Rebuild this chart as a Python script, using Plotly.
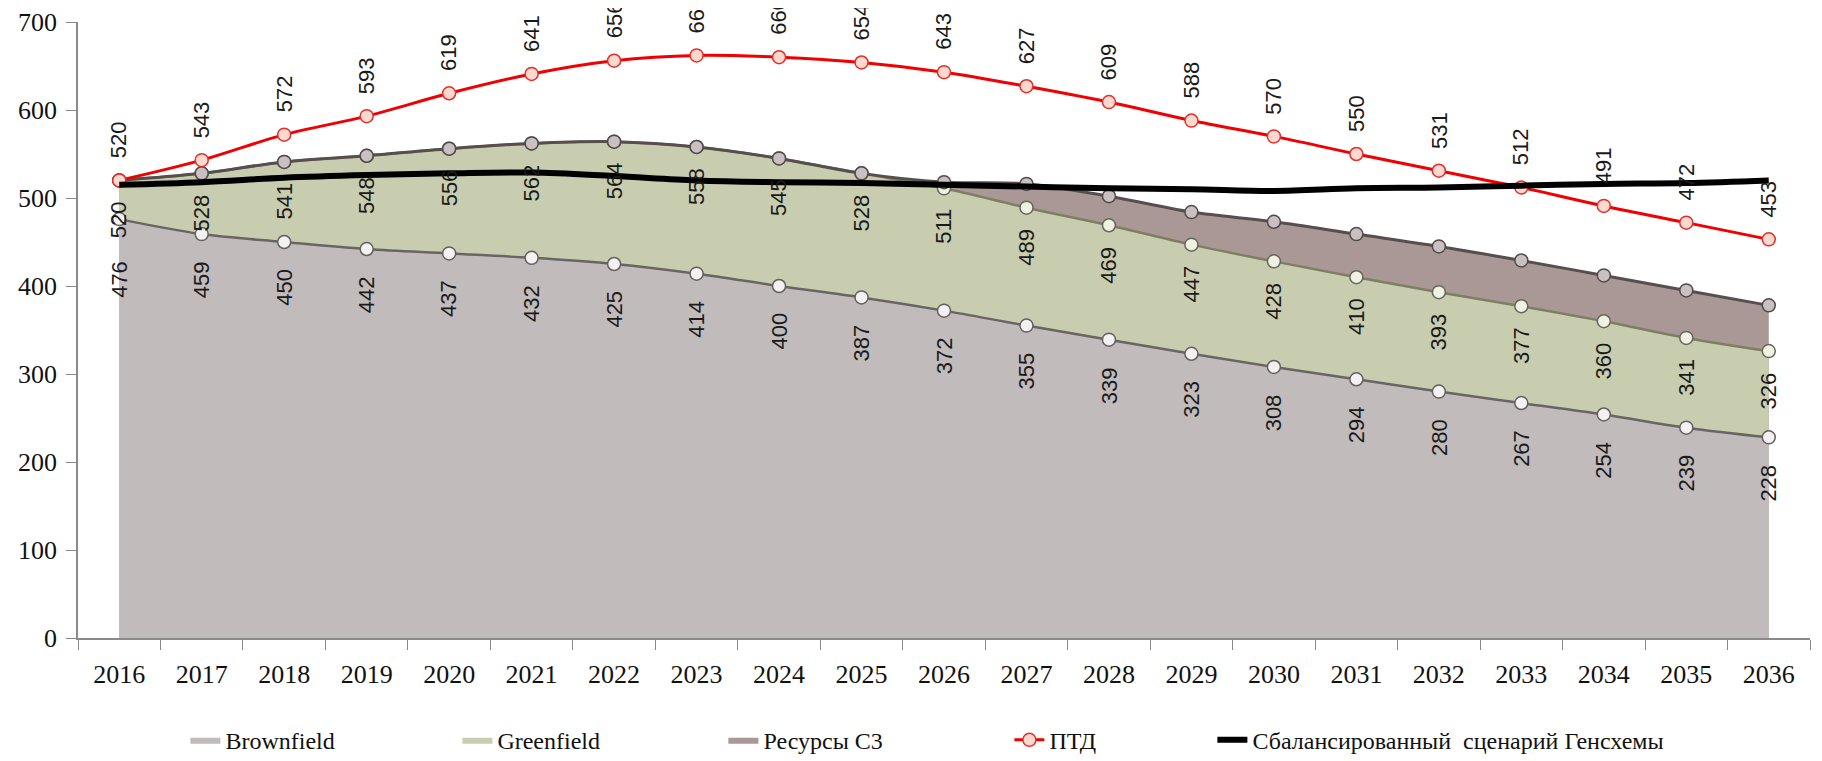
import plotly.graph_objects as go

years = list(range(2016, 2037))

brownfield = [476, 459, 450, 442, 437, 432, 425, 414, 400, 387, 372,
              355, 339, 323, 308, 294, 280, 267, 254, 239, 228]
# Brownfield + Greenfield (top of the green area)
greenfield = [520, 528, 541, 548, 556, 562, 564, 558, 545, 528, 511,
              489, 469, 447, 428, 410, 393, 377, 360, 341, 326]
# Brownfield + Greenfield + Ресурсы С3 (top of the brown area)
resources_c3 = [520, 528, 541, 548, 556, 562, 564, 558, 545, 528, 518,
                516, 502, 484, 473, 459, 445, 429, 412, 395, 378]
ptd = [520, 543, 572, 593, 619, 641, 656, 662, 660, 654, 643,
       627, 609, 588, 570, 550, 531, 512, 491, 472, 453]
balanced = [515, 518, 523, 526, 528, 529, 525, 520, 518, 517, 515,
            513, 511, 510, 508, 511, 512, 514, 516, 517, 520]

SERIF = "Liberation Serif"
LABEL_FONT = dict(family="Liberation Sans", size=22, color="#1a1a1a")

fig = go.Figure()

# filled areas, back to front (fill only, so the legend shows plain swatches)
areas = [
    ("Ресурсы С3", resources_c3, "#a99896", 3, 241),
    ("Greenfield", greenfield, "#c9cdb0", 2, 221),
    ("Brownfield", brownfield, "#c1bbbc", 1, 227),
]
for name, vals, color, rank, lw in areas:
    fig.add_trace(go.Scatter(
        x=years, y=vals, name=name, mode="lines", fill="tozeroy", fillcolor=color,
        line=dict(color=color, width=0, shape="spline"),
        legendrank=rank, legendwidth=lw, hoverinfo="skip",
    ))

# edge lines with markers on top of the areas
edges = [
    (brownfield, "#6a6565", 2.5, "#f3f1f1", "#655f5f"),
    (greenfield, "#7d7f62", 2.5, "#eff1e2", "#66665a"),
    (resources_c3, "#574f4e", 3, "#c8c0c1", "#524a4a"),
]
for vals, lcolor, lwidth, mfill, mline in edges:
    fig.add_trace(go.Scatter(
        x=years, y=vals, mode="lines+markers", showlegend=False, hoverinfo="skip",
        line=dict(color=lcolor, width=lwidth, shape="spline"),
        marker=dict(size=13, color=mfill, line=dict(color=mline, width=1.5)),
    ))

fig.add_trace(go.Scatter(
    x=years, y=ptd, name="ПТД", mode="lines+markers",
    line=dict(color="#f00000", width=3, shape="spline"),
    marker=dict(size=13, color="#ffd8cf", line=dict(color="#e0302a", width=1.5)),
    legendrank=4, legendwidth=158,
))
fig.add_trace(go.Scatter(
    x=years, y=balanced, name="Сбалансированный  сценарий Генсхемы", mode="lines",
    line=dict(color="#000000", width=6, shape="spline"),
    legendrank=5, legendwidth=470,
))

# rotated data labels
for i, yr in enumerate(years):
    fig.add_annotation(x=yr, y=ptd[i], text=str(ptd[i]), textangle=-90,
                       showarrow=False, yanchor="bottom", yshift=20, font=LABEL_FONT)
    fig.add_annotation(x=yr, y=greenfield[i], text=str(greenfield[i]), textangle=-90,
                       showarrow=False, yanchor="top", yshift=-19, font=LABEL_FONT)
    # push the brownfield label further down where it would collide with the green one
    shift = -40 if greenfield[i] - brownfield[i] < 50 else -25
    fig.add_annotation(x=yr, y=brownfield[i], text=str(brownfield[i]), textangle=-90,
                       showarrow=False, yanchor="top", yshift=shift, font=LABEL_FONT)

# page body has an 8px margin, so the figure is a bit smaller than the window
fig.update_layout(
    width=1814, height=753,
    paper_bgcolor="white", plot_bgcolor="white",
    margin=dict(l=70, r=12, t=14, b=123, autoexpand=False),
    font=dict(family=SERIF, size=25, color="#111111"),
    showlegend=True,
    legend=dict(orientation="h", x=0.062, xanchor="left", y=-0.166, yanchor="middle",
                font=dict(family=SERIF, size=24), bgcolor="rgba(0,0,0,0)"),
    xaxis=dict(range=[2015.5, 2036.5], tick0=2016, dtick=1, showgrid=False,
               zeroline=False, showline=True, linecolor="#8a8a8a", linewidth=1.5,
               automargin=False,
               ticks="outside", ticklen=10, tickcolor="rgba(0,0,0,0)",
               minor=dict(ticks="outside", ticklen=10, tick0=2015.5, dtick=1,
                          tickcolor="#8a8a8a", showgrid=False),
               tickfont=dict(family=SERIF, size=26), ticklabelstandoff=2),
    yaxis=dict(range=[0, 700], dtick=100, showgrid=False, zeroline=False,
               showline=True, linecolor="#8a8a8a", linewidth=1.5,
               automargin=False,
               ticks="outside", ticklen=10, tickcolor="#8a8a8a",
               tickfont=dict(family=SERIF, size=26), ticklabelstandoff=4),
)

fig.write_html("out.html")
